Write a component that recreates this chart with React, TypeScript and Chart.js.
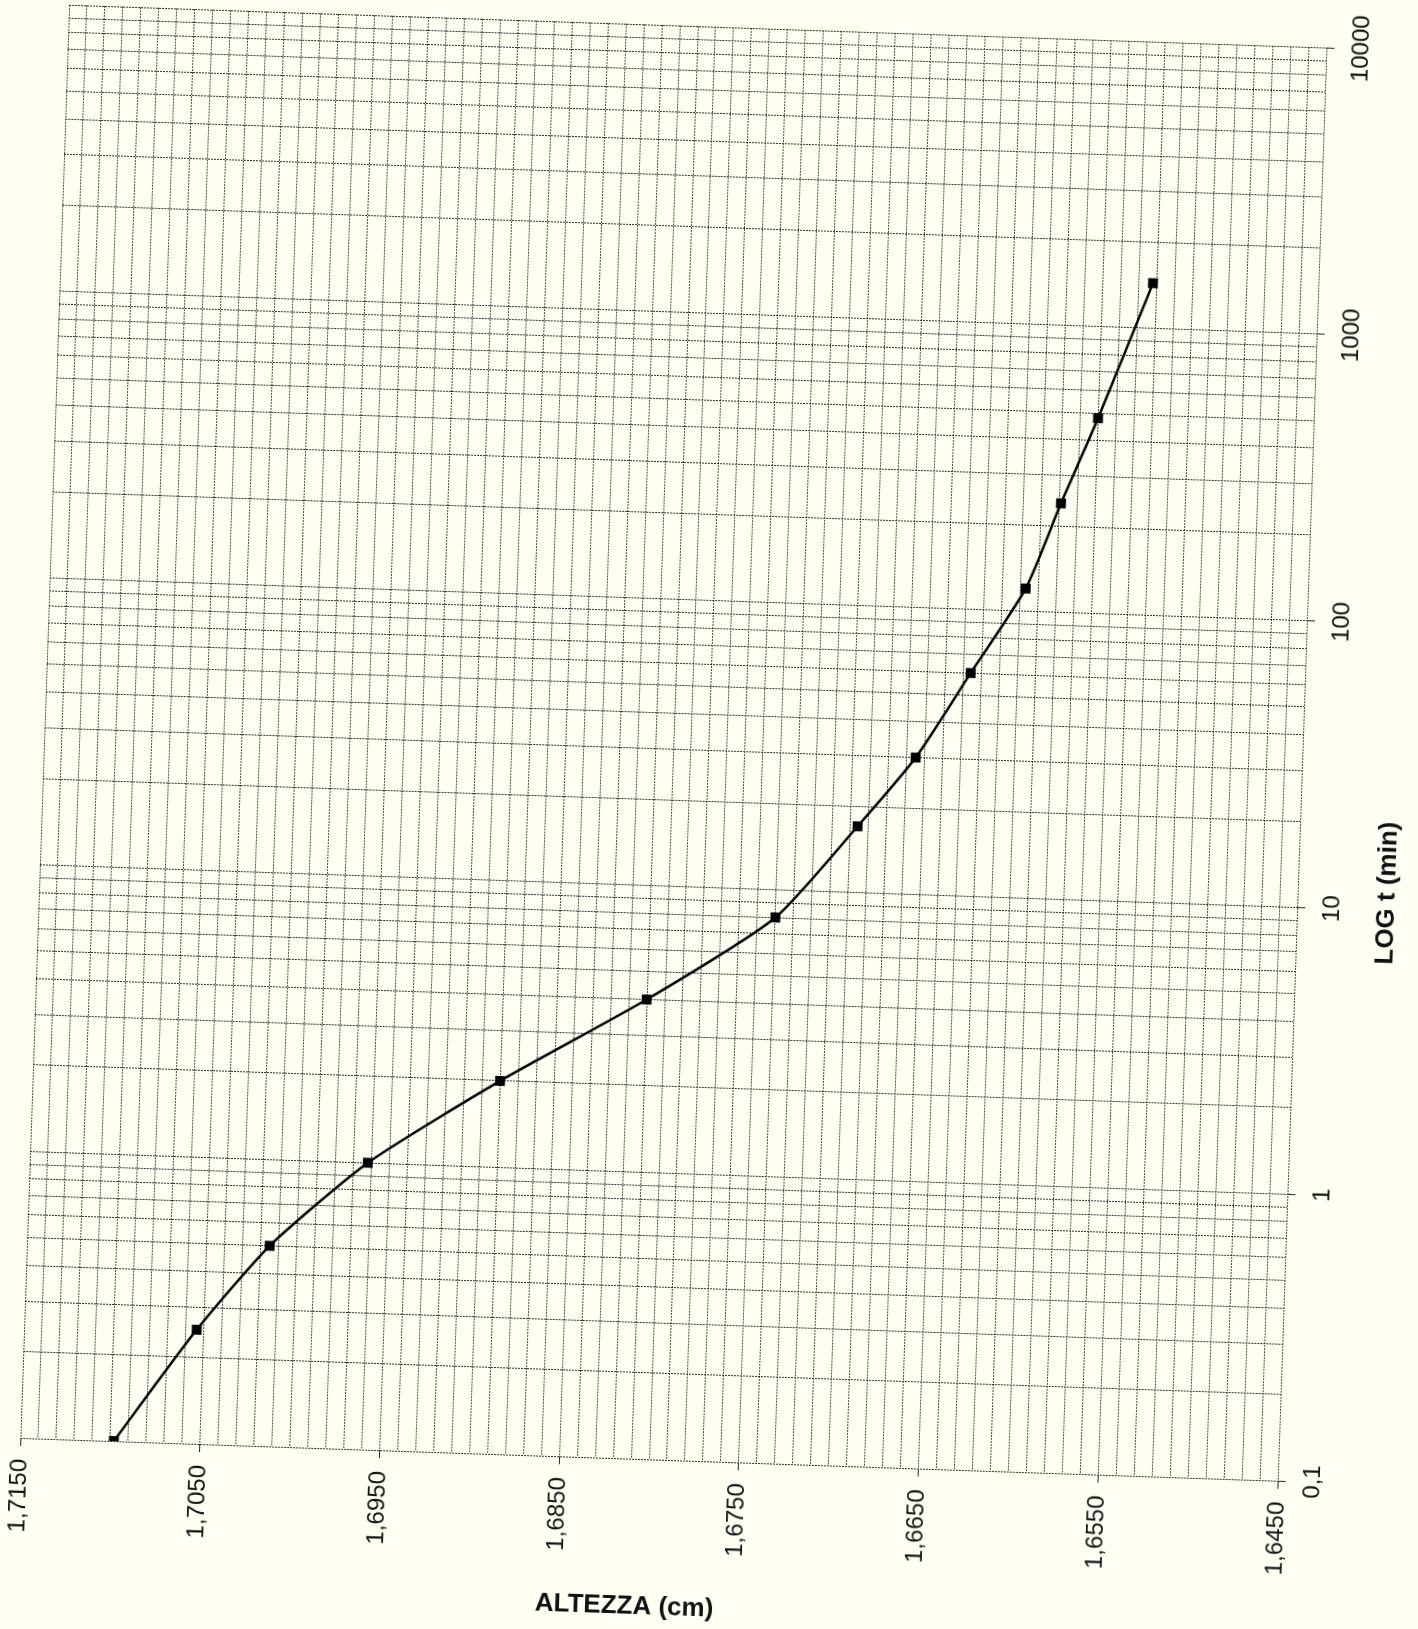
import React, { useEffect, useRef } from 'react';
import { Chart, registerables } from 'chart.js';

Chart.register(...registerables);

// ---- data ----
const timesMin = [0.1, 0.25, 0.5, 1, 2, 4, 8, 17, 30, 60, 120, 240, 480, 1440];
const altezzaCm = [1.7098, 1.7054, 1.7015, 1.6962, 1.689, 1.681, 1.674, 1.6696, 1.6665, 1.6636, 1.6607, 1.6589, 1.657, 1.6542];

const yLabelValues = [0.1, 1, 10, 100, 1000, 10000];
const yLabelTexts = ['0,1', '1', '10', '100', '1000', '10000'];

const X_MIN = 1.645;
const X_MAX = 1.715;
const Y_MIN = 0.1;
const Y_MAX = 10000;
const X_TITLE = 'ALTEZZA (cm)';
const Y_TITLE = 'LOG t (min)';

// ---- layout / style ----
const W = 1418;
const H = 1629;
const M = 60; // extra canvas margin so the tilted drawing is never clipped
const CW = W + 2 * M;
const CH = H + 2 * M;
const PLOT = { left: 42 + M, top: 27 + M, right: 1300 + M, bottom: 1461 + M };
const FONT = '"Liberation Sans", Arial, Helvetica, sans-serif';
const BG = '#fffff4';

const xGridValues: number[] = [];
for (let k = Math.round(X_MIN * 1000); k <= Math.round(X_MAX * 1000); k++) xGridValues.push(k / 1000);

const yGridValues: number[] = [];
for (let e = -1; e <= 3; e++) {
  for (let m = 1; m <= 9; m++) yGridValues.push(Number((m * Math.pow(10, e)).toPrecision(6)));
}
yGridValues.push(10000);

const isLabeledX = (v: number) => Math.round(v * 1000) % 10 === 5;
const fmtX = (v: number) => v.toFixed(4).replace('.', ',');
const isPow10 = (v: number) => Math.abs(Math.log10(v) - Math.round(Math.log10(v))) < 1e-9;

const overlayPlugin = {
  id: 'overlayText',
  afterDraw(chart: any) {
    const { ctx, chartArea, scales } = chart;
    ctx.save();
    ctx.fillStyle = '#111';
    ctx.textAlign = 'center';
    ctx.textBaseline = 'middle';
    ctx.font = `24px ${FONT}`;
    yLabelValues.forEach((v, i) => {
      const py = scales.y.getPixelForValue(v);
      ctx.save();
      ctx.translate(chartArea.right + 35, py);
      ctx.rotate(-Math.PI / 2);
      ctx.fillText(yLabelTexts[i], 0, 0);
      ctx.restore();
    });
    ctx.font = `bold 26px ${FONT}`;
    ctx.save();
    ctx.translate(chartArea.right + 90, 870 + M);
    ctx.rotate(-Math.PI / 2);
    ctx.fillText(Y_TITLE, 0, 0);
    ctx.restore();
    ctx.fillText(X_TITLE, 651 + M, 1609 + M);
    ctx.restore();
  },
};

export default function App() {
  const ref = useRef<HTMLCanvasElement | null>(null);

  useEffect(() => {
    if (!ref.current) return;
    const chart = new Chart(ref.current, {
      type: 'scatter',
      data: {
        datasets: [
          {
            data: timesMin.map((t, i) => ({ x: altezzaCm[i], y: t })),
            showLine: true,
            borderColor: '#000',
            borderWidth: 2.5,
            tension: 0.2,
            pointStyle: 'rect',
            pointRadius: 7,
            pointHoverRadius: 7,
            pointBackgroundColor: '#000',
            pointBorderColor: '#000',
            pointBorderWidth: 0,
          },
        ],
      },
      options: {
        responsive: false,
        animation: false,
        devicePixelRatio: 1,
        layout: { padding: { left: PLOT.left, top: PLOT.top, right: 0, bottom: 0 } },
        plugins: { legend: { display: false }, tooltip: { enabled: false } },
        scales: {
          x: {
            type: 'linear',
            position: 'bottom',
            min: X_MIN,
            max: X_MAX,
            reverse: true,
            afterBuildTicks: (s: any) => {
              s.ticks = xGridValues.map((v) => ({ value: v }));
            },
            afterFit: (s: any) => {
              s.height = CH - PLOT.bottom;
            },
            ticks: {
              autoSkip: false,
              minRotation: 90,
              maxRotation: 90,
              padding: 13,
              color: '#111',
              font: { family: FONT, size: 24 },
              callback: (v: any) => (isLabeledX(Number(v)) ? fmtX(Number(v)) : ''),
            },
            grid: {
              color: 'rgba(30,30,30,0.8)',
              lineWidth: 1,
              tickLength: 8,
              tickColor: (c: any) => (c.tick && isLabeledX(c.tick.value) ? '#222' : 'rgba(0,0,0,0)'),
            },
            border: { display: false, dash: [2, 1] },
          },
          y: {
            type: 'logarithmic',
            position: 'right',
            min: Y_MIN,
            max: Y_MAX,
            afterBuildTicks: (s: any) => {
              s.ticks = yGridValues.map((v) => ({ value: v, major: isPow10(v) }));
            },
            afterFit: (s: any) => {
              s.width = CW - PLOT.right;
            },
            ticks: { display: false },
            grid: {
              color: 'rgba(10,10,10,0.85)',
              lineWidth: 1,
              tickLength: 8,
              tickColor: (c: any) => (c.tick && isPow10(c.tick.value) ? '#222' : 'rgba(0,0,0,0)'),
            },
            border: { display: false, dash: [2, 1] },
          },
        },
      },
      plugins: [overlayPlugin],
    } as any);
    return () => chart.destroy();
  }, []);

  return (
    <div
      style={{
        position: 'fixed',
        left: 0,
        top: 0,
        width: W,
        height: H,
        background: BG,
        overflow: 'hidden',
      }}
    >
      <canvas
        ref={ref}
        width={CW}
        height={CH}
        style={{
          position: 'absolute',
          left: -M,
          top: -M,
          width: CW,
          height: CH,
          transform: 'rotate(1.95deg)',
          transformOrigin: '50% 50%',
        }}
      />
    </div>
  );
}
